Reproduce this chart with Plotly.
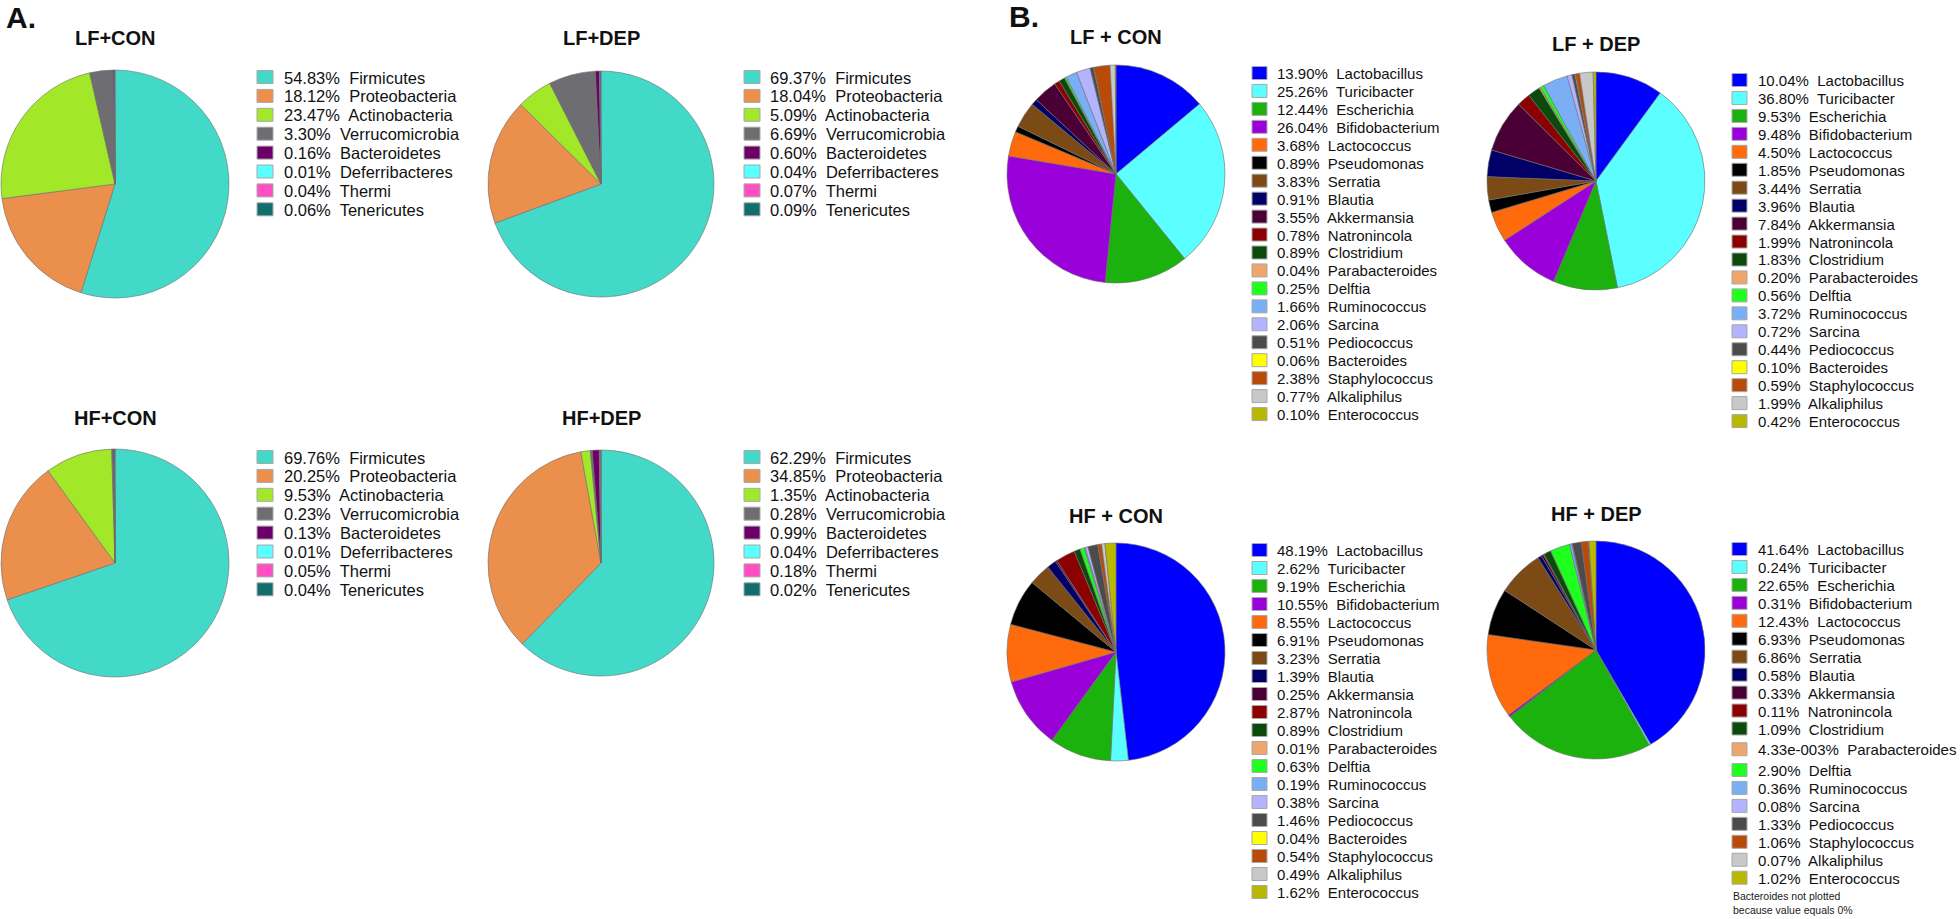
import plotly.graph_objects as go

W, H = 1960, 919

# ---------------- Data ----------------
phyla = ["Firmicutes", "Proteobacteria", "Actinobacteria", "Verrucomicrobia",
         "Bacteroidetes", "Deferribacteres", "Thermi", "Tenericutes"]
phyla_colors = ["#42D9C9", "#EB8F4D", "#A2E829", "#6E6E72",
                "#6A0068", "#5CFFFF", "#FF4FC2", "#116E6C"]
phy_LF_CON = [54.83, 18.12, 23.47, 3.30, 0.16, 0.01, 0.04, 0.06]
phy_LF_DEP = [69.37, 18.04, 5.09, 6.69, 0.60, 0.04, 0.07, 0.09]
phy_HF_CON = [69.76, 20.25, 9.53, 0.23, 0.13, 0.01, 0.05, 0.04]
phy_HF_DEP = [62.29, 34.85, 1.35, 0.28, 0.99, 0.04, 0.18, 0.02]

genera = ["Lactobacillus", "Turicibacter", "Escherichia", "Bifidobacterium",
          "Lactococcus", "Pseudomonas", "Serratia", "Blautia", "Akkermansia",
          "Natronincola", "Clostridium", "Parabacteroides", "Delftia",
          "Ruminococcus", "Sarcina", "Pediococcus", "Bacteroides",
          "Staphylococcus", "Alkaliphilus", "Enterococcus"]
genera_colors = ["#0000FF", "#5CFFFF", "#1BB20D", "#9A00DA", "#FF6A0C",
                 "#000000", "#7B4A15", "#000066", "#4A0035", "#8B0000",
                 "#0B4A0B", "#EFA66C", "#1EFF1E", "#7AAEF5", "#B3B3FF",
                 "#4B4B4B", "#FFFF00", "#B84A0A", "#C8C8C8", "#B8B800"]
gen_LF_CON = [13.90, 25.26, 12.44, 26.04, 3.68, 0.89, 3.83, 0.91, 3.55, 0.78,
              0.89, 0.04, 0.25, 1.66, 2.06, 0.51, 0.06, 2.38, 0.77, 0.10]
gen_LF_DEP = [10.04, 36.80, 9.53, 9.48, 4.50, 1.85, 3.44, 3.96, 7.84, 1.99,
              1.83, 0.20, 0.56, 3.72, 0.72, 0.44, 0.10, 0.59, 1.99, 0.42]
gen_HF_CON = [48.19, 2.62, 9.19, 10.55, 8.55, 6.91, 3.23, 1.39, 0.25, 2.87,
              0.89, 0.01, 0.63, 0.19, 0.38, 1.46, 0.04, 0.54, 0.49, 1.62]
gen_HF_DEP = [41.64, 0.24, 22.65, 0.31, 12.43, 6.93, 6.86, 0.58, 0.33, 0.11,
              1.09, 0.00433, 2.90, 0.36, 0.08, 1.33, 0.0, 1.06, 0.07, 1.02]

# ---------------- Layout helpers ----------------
FONT = "Liberation Sans, Arial, Helvetica, sans-serif"


def fmt(v):
    if 0 < v < 0.01:
        m, e = f"{v:.2e}".split("e")
        return f"{m}e-{abs(int(e)):03d}"
    return f"{v:.2f}"


def dom(cx, cy, r):
    return dict(x=[(cx - r) / W, (cx + r) / W], y=[1 - (cy + r) / H, 1 - (cy - r) / H])


fig = go.Figure()
annotations = []
shapes = []

panels = [
    dict(title="LF+CON", vals=phy_LF_CON, labels=phyla, colors=phyla_colors,
         cx=115, cy=184, r=114, ty=38, sx=257, tx=282, y0=77, dy=18.9, fs=16.5, sw=16, sh=13),
    dict(title="LF+DEP", vals=phy_LF_DEP, labels=phyla, colors=phyla_colors,
         cx=601, cy=184, r=113, ty=38, sx=744, tx=768, y0=77, dy=18.9, fs=16.5, sw=16, sh=13),
    dict(title="HF+CON", vals=phy_HF_CON, labels=phyla, colors=phyla_colors,
         cx=115, cy=563, r=114, ty=418, sx=257, tx=282, y0=457, dy=18.9, fs=16.5, sw=16, sh=13),
    dict(title="HF+DEP", vals=phy_HF_DEP, labels=phyla, colors=phyla_colors,
         cx=601, cy=563, r=113, ty=418, sx=744, tx=768, y0=457, dy=18.9, fs=16.5, sw=16, sh=13),
    dict(title="LF + CON", vals=gen_LF_CON, labels=genera, colors=genera_colors,
         cx=1116, cy=174, r=109, ty=37, sx=1252, tx=1275, y0=73, dy=17.95, fs=15, sw=15, sh=13),
    dict(title="LF + DEP", vals=gen_LF_DEP, labels=genera, colors=genera_colors,
         cx=1596, cy=181, r=109, ty=44, sx=1732, tx=1756, y0=80, dy=17.95, fs=15, sw=15, sh=13),
    dict(title="HF + CON", vals=gen_HF_CON, labels=genera, colors=genera_colors,
         cx=1116, cy=652, r=109, ty=516, sx=1252, tx=1275, y0=550, dy=18.0, fs=15, sw=15, sh=13),
    dict(title="HF + DEP", vals=gen_HF_DEP, labels=genera, colors=genera_colors,
         cx=1596, cy=650, r=109, ty=514, sx=1732, tx=1756, y0=549, dy=17.95, fs=15, sw=15, sh=13,
         skip_zero=True, gap_label="Parabacteroides", gap=2.8),
]

for p in panels:
    fig.add_trace(go.Pie(
        values=p["vals"], labels=p["labels"], sort=False, direction="clockwise",
        rotation=0, textinfo="none", hoverinfo="label+value",
        marker=dict(colors=p["colors"], line=dict(color="#6F6F6F", width=0.6)),
        domain=dom(p["cx"], p["cy"], p["r"]), showlegend=False,
    ))
    annotations.append(dict(
        x=p["cx"] / W, y=1 - p["ty"] / H, xref="paper", yref="paper",
        text=f"<b>{p['title']}</b>", showarrow=False, xanchor="center", yanchor="middle",
        font=dict(family=FONT, size=20, color="#111111"),
    ))
    y = p["y0"]
    for lab, v, c in zip(p["labels"], p["vals"], p["colors"]):
        if p.get("skip_zero") and v == 0:
            continue
        if lab == p.get("gap_label"):
            y += p["gap"]
        shapes.append(dict(
            type="rect", xref="paper", yref="paper",
            x0=p["sx"] / W, x1=(p["sx"] + p["sw"]) / W,
            y0=1 - (y + p["sh"] / 2) / H, y1=1 - (y - p["sh"] / 2) / H,
            fillcolor=c, line=dict(color="#A8A8A8", width=1),
        ))
        annotations.append(dict(
            x=p["tx"] / W, y=1 - (y + 0.5) / H, xref="paper", yref="paper",
            text=f"{fmt(v)}%\u00a0 {lab}", showarrow=False, xanchor="left", yanchor="middle",
            font=dict(family=FONT, size=p["fs"], color="#111111"),
        ))
        if lab == p.get("gap_label"):
            y += p["gap"]
        y += p["dy"]
    if p.get("skip_zero"):
        annotations.append(dict(
            x=1731 / W, y=1 - 903 / H, xref="paper", yref="paper",
            text="Bacteroides not plotted<br>because value equals 0%", showarrow=False,
            xanchor="left", yanchor="middle", align="left",
            font=dict(family=FONT, size=10.5, color="#222222"),
        ))

# panel letters
for letter, x, y in [("A.", 4, 17), ("B.", 1007, 16)]:
    annotations.append(dict(
        x=x / W, y=1 - y / H, xref="paper", yref="paper", text=f"<b>{letter}</b>",
        showarrow=False, xanchor="left", yanchor="middle",
        font=dict(family=FONT, size=30, color="#111111"),
    ))

fig.update_layout(
    width=W, height=H, autosize=False,
    margin=dict(l=0, r=0, t=0, b=0),
    paper_bgcolor="white", plot_bgcolor="white",
    annotations=annotations, shapes=shapes,
    font=dict(family=FONT),
)

fig.write_html("out.html", config={"displayModeBar": False},
               post_script="document.body.style.margin='0';document.body.style.overflow='hidden';")
